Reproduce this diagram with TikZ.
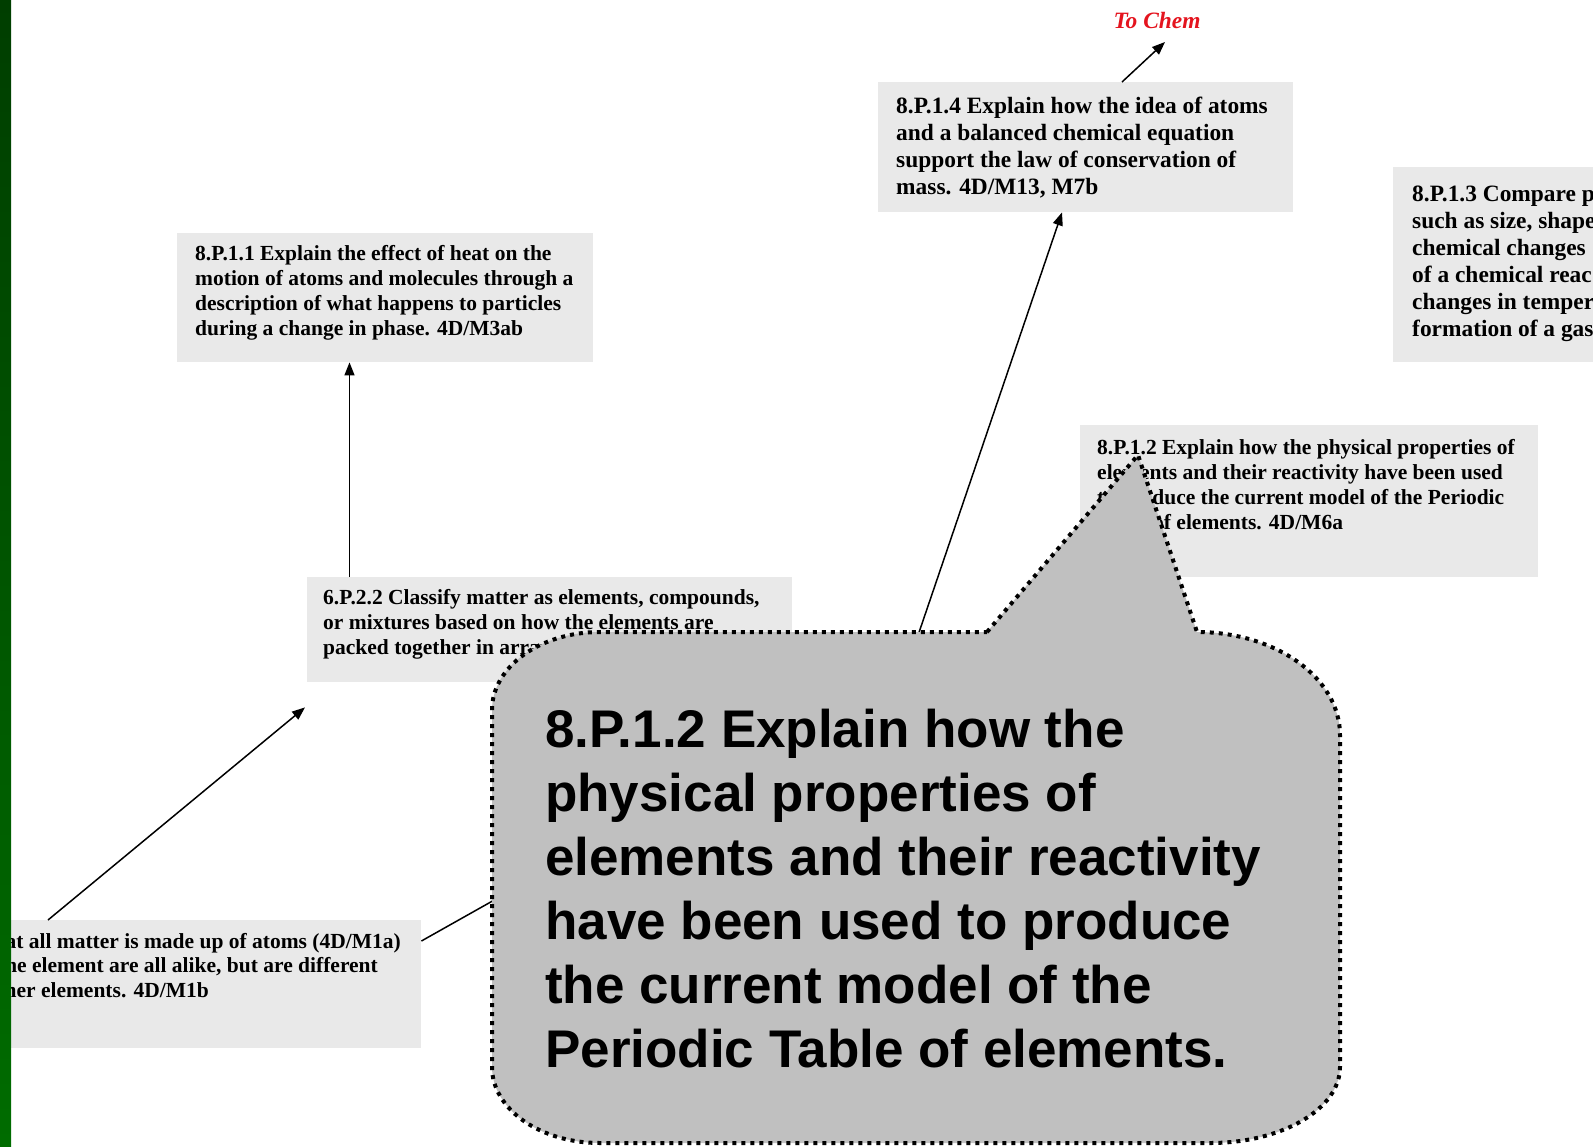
\documentclass[tikz,border=0pt]{standalone}
\usepackage{fontspec}
\setmainfont{Liberation Serif}
\newfontfamily\calloutfont{Liberation Sans}
\usetikzlibrary{arrows.meta}
\definecolor{boxgray}{RGB}{233,233,233}
\definecolor{callgray}{RGB}{192,192,192}
\definecolor{chemred}{RGB}{228,20,30}
\definecolor{bartop}{RGB}{0,62,0}
\definecolor{barbot}{RGB}{0,108,0}
\begin{document}
\begin{tikzpicture}[x=1pt,y=-1pt,
  stdbox/.style={fill=boxgray, draw=none, inner sep=0pt, anchor=north west},
  smalltext/.style={font=\bfseries\fontsize{21.5}{25}\selectfont, align=left, anchor=base west, inner sep=0pt},
  bigtext/.style={font=\bfseries\fontsize{23.4}{27}\selectfont, align=left, anchor=base west, inner sep=0pt},
  conn/.style={line width=1.5pt, -{Triangle[length=13pt,width=10pt]}},
  plainconn/.style={line width=1.5pt},
  callstyle/.style={fill=callgray, draw=black, line width=4pt, dash pattern=on 4pt off 5pt}]
\useasboundingbox (0,0) rectangle (1593,1146);
% boxes
\node[stdbox, minimum width=416pt, minimum height=129pt] (b811) at (177,233) {};
\node[stdbox, minimum width=415pt, minimum height=130pt] (b814) at (878,82) {};
\node[stdbox, minimum width=200pt, minimum height=195pt] (b813) at (1393,167) {};
\node[stdbox, minimum width=458pt, minimum height=152pt] (b812) at (1080,425) {};
\node[stdbox, minimum width=485pt, minimum height=105pt] (b622) at (307,577) {};
\node[stdbox, minimum width=421pt, minimum height=128pt] (bleft) at (0,920) {};
% texts (anchor = baseline of the last line)
\node[smalltext] (t811) at (195,335) {8.P.1.1 Explain the effect of heat on the\\motion of atoms and molecules through a\\description of what happens to particles\\during a change in phase. 4D/M3ab};
\node[bigtext] (t814) at (896,194.5) {8.P.1.4 Explain how the idea of atoms\\and a balanced chemical equation\\support the law of conservation of\\mass. 4D/M13, M7b};
\node[bigtext] (t813) at (1412,336) {8.P.1.3 Compare p\\such as size, shape\\chemical changes\\of a chemical reac\\changes in temper\\formation of a gas};
\node[smalltext] (t812) at (1097,529) {8.P.1.2 Explain how the physical properties of\\elements and their reactivity have been used\\to produce the current model of the Periodic\\Table of elements. 4D/M6a};
\node[smalltext] (t622) at (323,654) {6.P.2.2 Classify matter as elements, compounds,\\or mixtures based on how the elements are\\packed together in arrangements.};
\node[smalltext, anchor=base east] (tl1) at (401,948.5) {at all matter is made up of atoms (4D/M1a)};
\node[smalltext, anchor=base east] (tl2) at (378,972.5) {me element are all alike, but are different};
\node[smalltext, anchor=base east] (tl3) at (209,997.5) {her elements. 4D/M1b};
\node[font=\bfseries\itshape\fontsize{23.4}{27}\selectfont, text=chemred, anchor=base, inner sep=0pt] (chem) at (1157,28) {To Chem};
% hidden ends of connectors
\coordinate (h3) at (896,700);
\coordinate (h5) at (560,863);
% connectors
\draw[conn] ([xshift=42.5pt]b622.north west) -- ([xshift=172.5pt]b811.south west);
\draw[conn] ([xshift=48pt]bleft.north west) -- ([xshift=-2pt,yshift=-25pt]b622.south west);
\draw[conn] (h3) -- ([xshift=184pt]b814.south west);
\draw[conn] ([xshift=244pt]b814.north west) -- ([xshift=8pt,yshift=-14pt]chem.base);
\draw[plainconn] ([yshift=-21pt]bleft.north east) -- (h5);
% callout
\draw[callstyle] (987,632) -- (1138,455) -- (1197,632)
  .. controls (1276,632) and (1340,678) .. (1340,735) -- (1340,1067)
  .. controls (1340,1109) and (1282,1143) .. (1210,1143) -- (600,1143)
  .. controls (540,1143) and (492,1109) .. (492,1067) -- (492,710)
  .. controls (492,667) and (540,632) .. (600,632) -- cycle;
\node[font=\calloutfont\bfseries\fontsize{53}{64}\selectfont, align=left, anchor=base west, inner sep=0pt] (ctext) at (545,1067) {8.P.1.2 Explain how the\\physical properties of\\elements and their reactivity\\have been used to produce\\the current model of the\\Periodic Table of elements.};
% green bar
\shade[top color=bartop, bottom color=barbot] (0,0) rectangle (11,1146);
\end{tikzpicture}
\end{document}
